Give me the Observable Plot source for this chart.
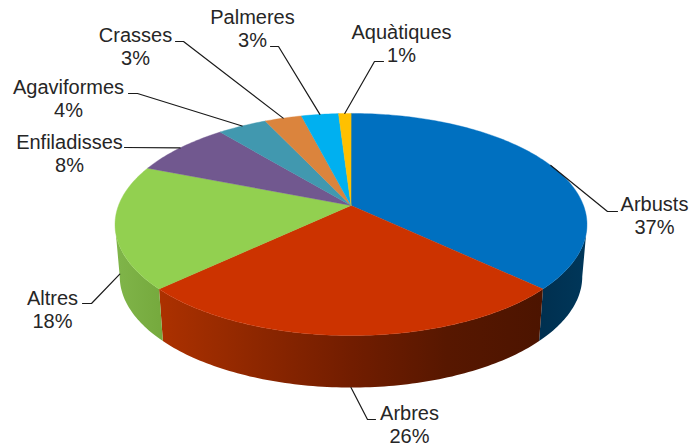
<!DOCTYPE html>
<html>
<head>
<meta charset="utf-8">
<style>html,body{margin:0;padding:0;background:#fff}svg{display:block}</style>
<script src="https://cdn.jsdelivr.net/npm/d3@7"></script>
<script src="https://cdn.jsdelivr.net/npm/@observablehq/plot@0.6"></script>
</head>
<body>
<script>
// Data
const categories = ["Arbusts","Arbres","Altres","Enfiladisses","Agaviformes","Crasses","Palmeres","Aquàtiques"];
const shares = [37,26,18,8,4,3,3,1];

// Styles
const topColors = ["#0070C0","#CC3300","#92D050","#71588F","#4198AF","#DB843D","#00B0F0","#FFC000"];
const sideRamps = [["#00375A","#003050"],["#4C1400","#571700","#721D00","#8E2700","#AC3100"],["#76AA3E","#80B54A"]];

// Layout of the perspective disc and of the hand-placed labels
const W = 691, H = 448;
const view = {cx:350.5, cy:205, a:232.5, b:107.8, k:0.171, depth:52, shrink:0.98};
const labelAnchors = [[654,215],[409,424],[52,309],[69,153],[68,98],[135,45.5],[252,27.5],[401,43]];
const elbows = [[607,211,617,211],[367,419,375,419],[91,303,82,303],[124,147,124,147],[137,93,128,93],[183,41,175,41],[278,46,270,46],[374,61,383,61]];
const leaderDrop = [0,1,0.92,0,0,0,0,0];

const rad = d => d * Math.PI / 180;
function topPoint(deg){
  const u = Math.sin(rad(deg)), v = Math.cos(rad(deg)), w = 1 + view.k * v;
  return [view.cx + view.a * u / w, view.cy - view.b * v / w];
}
function basePoint(deg, drop = 1){
  const [x,y] = topPoint(deg);
  return [view.cx + view.shrink * (x - view.cx), y + view.depth * drop];
}

// Slice boundaries in degrees, from the shares
const total = d3.sum(shares);
let run = 0;
const slices = shares.map((s,i) => {
  const start = run / total * 360; run += s;
  const end = run / total * 360;
  return {i, name:categories[i], value:s, start, end, mid:(start + end) / 2};
});

// Angles where the disc's outline is widest: the side wall is visible between them
const rimRight = Math.acos(-view.k) * 180 / Math.PI, rimLeft = 360 - rimRight;

// Top faces and side faces
const topRows = [], sideRows = [], gradients = [];
const sweep = (a, b) => { const n = Math.max(2, Math.ceil(b - a)); return d3.range(n + 1).map(j => a + (b - a) * j / n); };
for (const s of slices){
  topRows.push({id:s.i, x:view.cx, y:view.cy, c:topColors[s.i]});
  for (const d of sweep(s.start, s.end)){
    const [x,y] = topPoint(d);
    topRows.push({id:s.i, x, y, c:topColors[s.i]});
  }
  const lo = Math.max(s.start, rimRight), hi = Math.min(s.end, rimLeft);
  if (lo < hi){
    const degs = sweep(lo, hi);
    const fill = "url(#side-" + s.i + ")";
    const edge = [...degs.map(d => topPoint(d)), ...degs.slice().reverse().map(d => basePoint(d))];
    for (const p of edge) sideRows.push({id:s.i, x:p[0], y:p[1], c:fill});
    gradients.push({id:"side-" + s.i, x1:topPoint(lo)[0], x2:topPoint(hi)[0], ramp:sideRamps[s.i]});
  }
}

// Leaders: start on the slice's mid-angle, then bend toward the label
const leaderRows = [];
slices.forEach(s => {
  const p = leaderDrop[s.i] ? basePoint(s.mid, leaderDrop[s.i]) : topPoint(s.mid);
  const e = elbows[s.i];
  leaderRows.push({id:s.i,x:p[0],y:p[1]},{id:s.i,x:e[0],y:e[1]},{id:s.i,x:e[2],y:e[3]});
});

const labelRows = slices.map(s => ({x:labelAnchors[s.i][0], y:labelAnchors[s.i][1], t:s.name + "\n" + s.value + "%"}));

// Side-wall shading, placed through the x scale
function sideShading(index, scales){
  const defs = d3.create("svg:defs");
  for (const g of gradients){
    const lg = defs.append("linearGradient").attr("id", g.id).attr("gradientUnits","userSpaceOnUse")
      .attr("x1", scales.x(g.x1)).attr("x2", scales.x(g.x2)).attr("y1",0).attr("y2",0);
    g.ramp.forEach((c,i) => lg.append("stop").attr("offset", i / (g.ramp.length - 1)).attr("stop-color", c));
  }
  return defs.node();
}

const chart = Plot.plot({
  width:W, height:H, margin:0,
  x:{domain:[0,W], range:[0,W], axis:null},
  y:{domain:[0,H], range:[0,H], axis:null},
  marks:[
    sideShading,
    ...gradients.map(g => Plot.line(sideRows.filter(r => r.c === "url(#" + g.id + ")"),{x:"x",y:"y",fill:"url(#" + g.id + ")",stroke:"none",curve:"linear-closed"})),
    Plot.line(topRows,{x:"x",y:"y",z:"id",fill:"c",stroke:"c",strokeWidth:0.4,curve:"linear-closed"}),
    Plot.line(leaderRows,{x:"x",y:"y",z:"id",stroke:"#1a1a1a",strokeWidth:1.2,curve:"linear"}),
    Plot.text(labelRows,{x:"x",y:"y",text:"t",fontSize:20,lineHeight:1.15,fill:"#262626",fontFamily:"Liberation Sans, Arial, sans-serif",textAnchor:"middle"})
  ]
});
document.body.appendChild(chart);
</script>
</body>
</html>
